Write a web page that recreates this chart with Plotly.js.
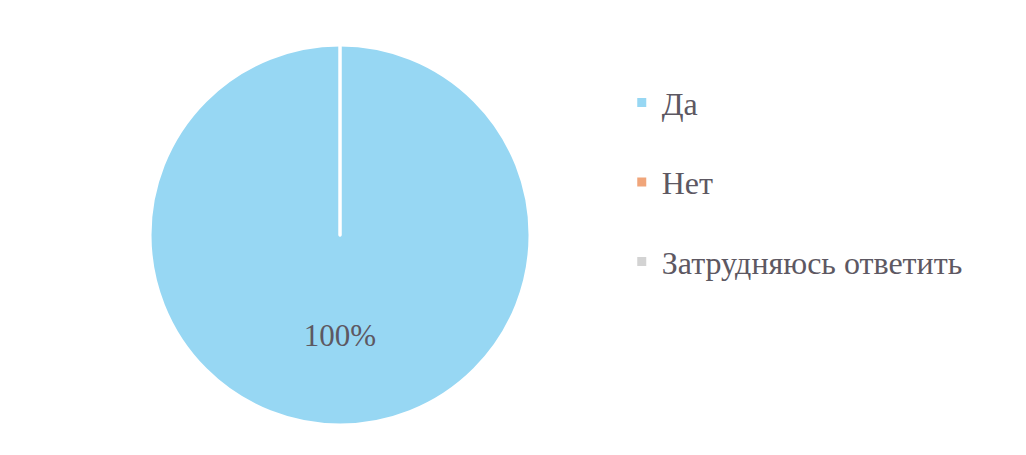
<!DOCTYPE html>
<html>
<head>
<meta charset="utf-8">
<script src="https://cdn.plot.ly/plotly-3.0.1.min.js"></script>
<style>html,body{margin:0;padding:0;background:#fff;}#chart{width:1026px;height:455px;}</style>
</head>
<body>
<div id="chart"></div>
<script>
const categories = ['Да', 'Нет', 'Затрудняюсь ответить'];
const values = [100, 0, 0];
const sliceColors = ['#97d7f3', '#f0a57a', '#d3d3d3'];

const FONT = "'Liberation Serif', 'DejaVu Serif', serif";
const total = values.reduce((a, b) => a + b, 0);
const pad = '\u00a0<br>'.repeat(5);
const labelsText = values.map(v => v > 0 ? pad + Math.round(v / total * 100) + '%' : '');

// legend entries (one per category, no plotted data) so the entries can be spaced apart
const legendTraces = categories.map((c, i) => ({
  type: 'scatter',
  mode: 'markers',
  name: c,
  x: [null],
  y: [null],
  legendgroup: 'g' + i,
  marker: { color: sliceColors[i], symbol: 'square', size: 9 },
  hoverinfo: 'skip'
}));

const mainTrace = {
  type: 'pie',
  labels: categories,
  values: values,
  text: labelsText,
  textinfo: 'text',
  textposition: 'inside',
  insidetextorientation: 'horizontal',
  sort: false,
  direction: 'clockwise',
  rotation: 0,
  hoverinfo: 'label+percent',
  showlegend: false,
  marker: { colors: sliceColors, line: { color: '#ffffff', width: 3 } },
  textfont: { family: FONT, size: 31, color: '#5d5862' },
  domain: { x: [0.1462, 0.5166], y: [0.0659, 0.9011] }
};

const layout = {
  width: 1026,
  height: 455,
  margin: { l: 0, r: 0, t: 0, b: 0 },
  paper_bgcolor: '#ffffff',
  plot_bgcolor: 'rgba(0,0,0,0)',
  xaxis: { visible: false },
  yaxis: { visible: false },
  showlegend: true,
  legend: {
    x: 0.606, xanchor: 'left',
    y: 0.835, yanchor: 'top',
    traceorder: 'grouped',
    tracegroupgap: 35,
    font: { family: FONT, size: 32, color: '#5d5862' },
    bgcolor: 'rgba(0,0,0,0)'
  }
};

Plotly.newPlot('chart', [mainTrace].concat(legendTraces), layout, { displayModeBar: false, staticPlot: true });
</script>
</body>
</html>
